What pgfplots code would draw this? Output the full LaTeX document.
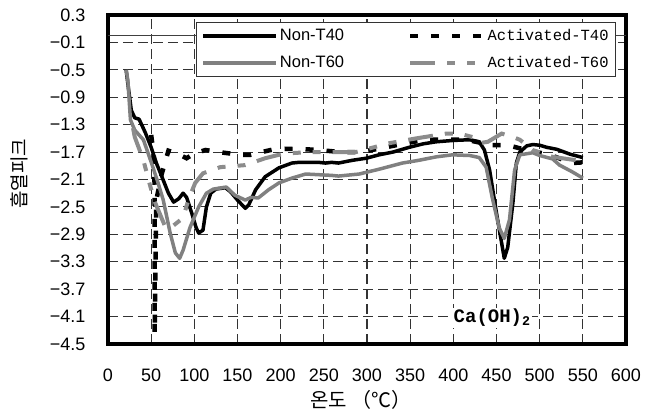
\documentclass[border=0pt]{standalone}
\usepackage{fontspec}
\setmainfont{Liberation Sans}
\newfontfamily\monofont{Liberation Mono}
\newfontfamily\kr{Noto Sans CJK KR}
\usepackage{pgfplots}
\pgfplotsset{compat=1.18}

\definecolor{g1}{RGB}{128,128,128}
\definecolor{g2}{RGB}{140,140,140}

\begin{document}
\begin{tikzpicture}
\begin{axis}[
  at={(0pt,0pt)}, anchor=south west,
  width=518pt, height=329pt, scale only axis,
  xmin=0, xmax=600, ymin=-4.5, ymax=0.3,
  xtick={0,50,...,600},
  ytick={0.3,-0.1,-0.5,-0.9,-1.3,-1.7,-2.1,-2.5,-2.9,-3.3,-3.7,-4.1,-4.5},
  yticklabels={0.3,−0.1,−0.5,−0.9,−1.3,−1.7,−2.1,−2.5,−2.9,−3.3,−3.7,−4.1,−4.5},
  xticklabels={0,50,100,150,200,250,300,350,400,450,500,550,600},
  tick label style={font=\fontsize{18}{20}\selectfont},
  yticklabel style={xshift=-19pt},
  xticklabel style={yshift=-21pt},
  tick style={draw=none},
  axis line style={line width=3.5pt},
  grid=major,
  major grid style={dash pattern=on 10pt off 5pt, line width=1.1pt, color=black!80},
  xlabel={\kr\fontsize{20}{22}\selectfont 온도 （℃）},
  xlabel style={at={(rel axis cs:0.488,-0.170)}, anchor=center},
  ylabel={\kr\fontsize{19}{21}\selectfont 흡열피크},
  ylabel style={at={(rel axis cs:-0.1718,0.517)}, anchor=center},
  legend columns=2,
  legend cell align=left,
  legend style={at={(rel axis cs:0.9807,0.9787)}, anchor=north east,
    draw=black!80, line width=0.8pt, fill=white, inner sep=5pt,
    font=\fontsize{16.5}{18}\selectfont,
    /tikz/every even column/.append style={column sep=62pt},
    row sep=10pt},
  legend image code/.code={\draw[#1] (0pt,0pt) -- (73pt,0pt);},
  clip=true,
]
\addplot[forget plot, line width=1pt, black!75] coordinates {(0,0) (600,0)};

\addplot[black, line width=3.5pt, line join=round] coordinates {
(21,-0.50)(24,-0.80)(27,-1.09)(31,-1.20)(36,-1.22)(43,-1.41)(50,-1.63)(56,-1.86)(64,-2.11)(70,-2.30)(76,-2.43)(82,-2.38)(87,-2.30)(91,-2.36)(97,-2.59)(102,-2.80)(105,-2.88)(110,-2.84)(114,-2.50)(119,-2.30)(125,-2.24)(136,-2.22)(142,-2.28)(150,-2.40)(159,-2.52)(163,-2.47)(171,-2.25)(182,-2.06)(198,-1.93)(213,-1.86)(221,-1.85)(244,-1.85)(252,-1.86)(259,-1.85)(267,-1.86)(283,-1.82)(299,-1.79)(314,-1.74)(330,-1.70)(349,-1.63)(365,-1.58)(380,-1.55)(400,-1.53)(419,-1.52)(430,-1.55)(436,-1.67)(442,-1.96)(450,-2.59)(456,-3.03)(459,-3.25)(463,-3.09)(469,-2.44)(473,-1.86)(477,-1.70)(485,-1.61)(492,-1.59)(500,-1.60)(508,-1.63)(520,-1.66)(535,-1.73)(550,-1.78)
};
\addlegendentry{Non-T40}

\addplot[black, line width=4.5pt, dash pattern=on 8pt off 13pt] coordinates {
(50,-1.45)(53,-1.75)(54,-2.20)(54,-4.35)(56,-2.40)(62,-2.03)(70,-1.68)(80,-1.72)(91,-1.79)(100,-1.72)(113,-1.67)(128,-1.70)(141,-1.72)(153,-1.74)(165,-1.74)(178,-1.70)(192,-1.66)(217,-1.65)(244,-1.67)(270,-1.70)(293,-1.70)(322,-1.63)(345,-1.57)(368,-1.52)(393,-1.52)(415,-1.52)(430,-1.56)(442,-1.60)(463,-1.60)(485,-1.67)(512,-1.74)(537,-1.86)(550,-1.85)
};
\addlegendentry{\monofont\fontsize{15.5}{18}\selectfont Activated-T40}

\addplot[g1, line width=3.5pt, line join=round] coordinates {
(21,-0.50)(23,-0.65)(26,-1.23)(31,-1.38)(41,-1.52)(46,-1.70)(52,-1.92)(58,-2.15)(64,-2.40)(72,-2.88)(78,-3.17)(83,-3.25)(87,-3.13)(95,-2.80)(105,-2.50)(114,-2.30)(122,-2.24)(137,-2.21)(147,-2.33)(159,-2.40)(166,-2.36)(174,-2.37)(186,-2.25)(198,-2.15)(213,-2.08)(229,-2.02)(259,-2.04)(267,-2.05)(291,-2.02)(314,-1.95)(341,-1.86)(360,-1.82)(380,-1.77)(399,-1.74)(419,-1.75)(430,-1.78)(438,-1.92)(445,-2.36)(453,-2.80)(459,-2.96)(465,-2.69)(471,-1.96)(477,-1.74)(492,-1.71)(500,-1.75)(515,-1.80)(523,-1.89)(538,-1.99)(550,-2.08)
};
\addlegendentry{Non-T60}

\addplot[g2, line width=4pt, dash pattern=on 25pt off 12pt on 8pt off 12pt on 8pt off 12pt] coordinates {
(29,-1.35)(31,-1.48)(41,-1.82)(49,-2.20)(55,-2.45)(60,-2.60)(67,-2.81)(75,-2.78)(87,-2.66)(93,-2.40)(101,-2.15)(110,-2.01)(130,-1.92)(159,-1.89)(182,-1.79)(198,-1.74)(207,-1.72)(233,-1.70)(259,-1.70)(287,-1.70)(302,-1.65)(326,-1.57)(357,-1.50)(392,-1.43)(407,-1.43)(422,-1.48)(430,-1.57)(440,-1.55)(456,-1.43)(469,-1.48)(477,-1.52)(492,-1.67)(515,-1.77)(543,-1.82)(550,-1.77)
};
\addlegendentry{\monofont\fontsize{15.5}{18}\selectfont Activated-T60}

\node[fill=white, inner sep=1pt, font=\monofont\bfseries\fontsize{19}{20}\selectfont] at (axis cs:445,-4.12) {Ca(OH)\textsubscript{2}};
\end{axis}
\pgfresetboundingbox
\path (-108pt,-70pt) rectangle (548pt,344pt);
\end{tikzpicture}
\end{document}
